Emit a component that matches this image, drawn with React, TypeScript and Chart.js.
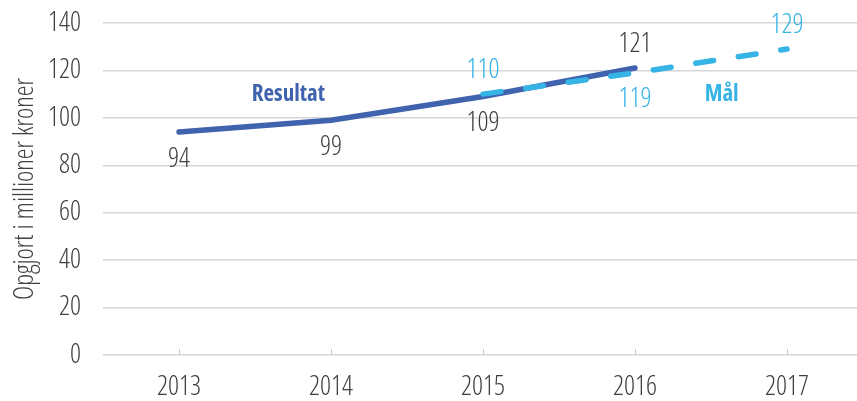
import React, { useEffect, useRef } from "react";
import { Chart, registerables } from "chart.js";

Chart.register(...registerables);

const years = ["2013", "2014", "2015", "2016", "2017"];
const resultat = [94, 99, 109, 121, null];
const maal = [null, null, 110, 119, 129];
const yTicks = [0, 20, 40, 60, 80, 100, 120, 140];

const FAMILY = "'Open Sans', sans-serif";
const LIGHT = "300 condensed";
const BOLD = "bold condensed";
const DARK_BLUE = "#3f63ad";
const LIGHT_BLUE = "#36b4e5";
const TEXT = "#404040";

// where each value label sits relative to its point: -1 above, 1 below
const resultatPlacement = [1, 1, 1, -1, 1];
const maalPlacement = [-1, -1, -1, 1, -1];

const overlayPlugin = {
  id: "overlay",
  afterDatasetsDraw(chart: any) {
    const { ctx, chartArea, scales } = chart;
    const x = scales.x;
    const y = scales.y;
    ctx.save();

    // small tick marks standing on the baseline
    ctx.strokeStyle = "#c8c8c8";
    ctx.lineWidth = 1;
    years.forEach((_, i) => {
      const px = Math.round(x.getPixelForValue(i)) + 0.5;
      ctx.beginPath();
      ctx.moveTo(px, chartArea.bottom - 6);
      ctx.lineTo(px, chartArea.bottom);
      ctx.stroke();
    });

    // value labels
    ctx.font = `${LIGHT} 27px ${FAMILY}`;
    ctx.textAlign = "center";
    ctx.textBaseline = "middle";
    const placements = [resultatPlacement, maalPlacement];
    const colors = [TEXT, LIGHT_BLUE];
    chart.data.datasets.forEach((ds: any, i: number) => {
      const meta = chart.getDatasetMeta(i);
      ctx.fillStyle = colors[i];
      meta.data.forEach((pt: any, j: number) => {
        const v = ds.data[j];
        if (v == null) return;
        const dir = placements[i][j];
        ctx.fillText(String(v), pt.x, pt.y + (dir > 0 ? 27 : -24));
      });
    });

    // series names
    const step = x.getPixelForValue(1) - x.getPixelForValue(0);
    ctx.font = `${BOLD} 23px ${FAMILY}`;
    ctx.fillStyle = DARK_BLUE;
    ctx.fillText("Resultat", x.getPixelForValue(0) + step * 0.72, y.getPixelForValue(110));
    ctx.fillStyle = LIGHT_BLUE;
    ctx.fillText("Mål", x.getPixelForValue(3) + step * 0.57, y.getPixelForValue(110));

    ctx.restore();
  },
};

export default function App() {
  const canvasRef = useRef<HTMLCanvasElement | null>(null);

  useEffect(() => {
    document.body.style.overflow = "hidden";
    const canvas = canvasRef.current;
    if (!canvas) return;
    const chart = new Chart(canvas, {
      type: "line",
      data: {
        labels: years,
        datasets: [
          {
            label: "Resultat",
            data: resultat,
            borderColor: DARK_BLUE,
            borderWidth: 5.5,
            borderCapStyle: "round",
            pointRadius: 0,
            tension: 0,
            order: 1,
          },
          {
            label: "Mål",
            data: maal,
            borderColor: LIGHT_BLUE,
            borderWidth: 5.5,
            borderDash: [18, 25],
            borderCapStyle: "round",
            pointRadius: 0,
            tension: 0,
            order: 0,
          },
        ],
      },
      options: {
        animation: false,
        responsive: false,
        maintainAspectRatio: false,
        layout: { padding: { top: 23, right: 7, left: 0, bottom: 0 } },
        plugins: {
          legend: { display: false },
          tooltip: { enabled: false },
        },
        scales: {
          x: {
            offset: true,
            grid: { display: false, drawTicks: false },
            border: { display: false },
            ticks: {
              color: TEXT,
              font: { family: FAMILY, size: 27, weight: LIGHT },
              padding: 16,
            },
            afterFit: (scale: any) => {
              scale.height = 46;
              scale.paddingLeft = 0;
              scale.paddingRight = 0;
            },
          },
          y: {
            min: 0,
            max: 140,
            afterBuildTicks: (scale: any) => {
              scale.ticks = yTicks.map((v) => ({ value: v }));
            },
            grid: { color: "#d6d6d6", lineWidth: 1.5, drawTicks: false },
            border: { display: false },
            ticks: {
              color: TEXT,
              font: { family: FAMILY, size: 27, weight: LIGHT },
              padding: 22,
            },
            title: {
              display: true,
              text: "Opgjort i millioner kroner",
              color: TEXT,
              font: { family: FAMILY, size: 27, weight: LIGHT },
              padding: { top: 9, bottom: 0 },
            },
            afterFit: (scale: any) => {
              scale.width = 103;
              scale.paddingTop = 0;
              scale.paddingBottom = 0;
            },
          },
        },
      },
      plugins: [overlayPlugin],
    });
    return () => chart.destroy();
  }, []);

  return (
    <div style={{ position: "fixed", left: 0, top: 0, width: 870, height: 401 }}>
      <canvas ref={canvasRef} width={870} height={401} />
    </div>
  );
}
